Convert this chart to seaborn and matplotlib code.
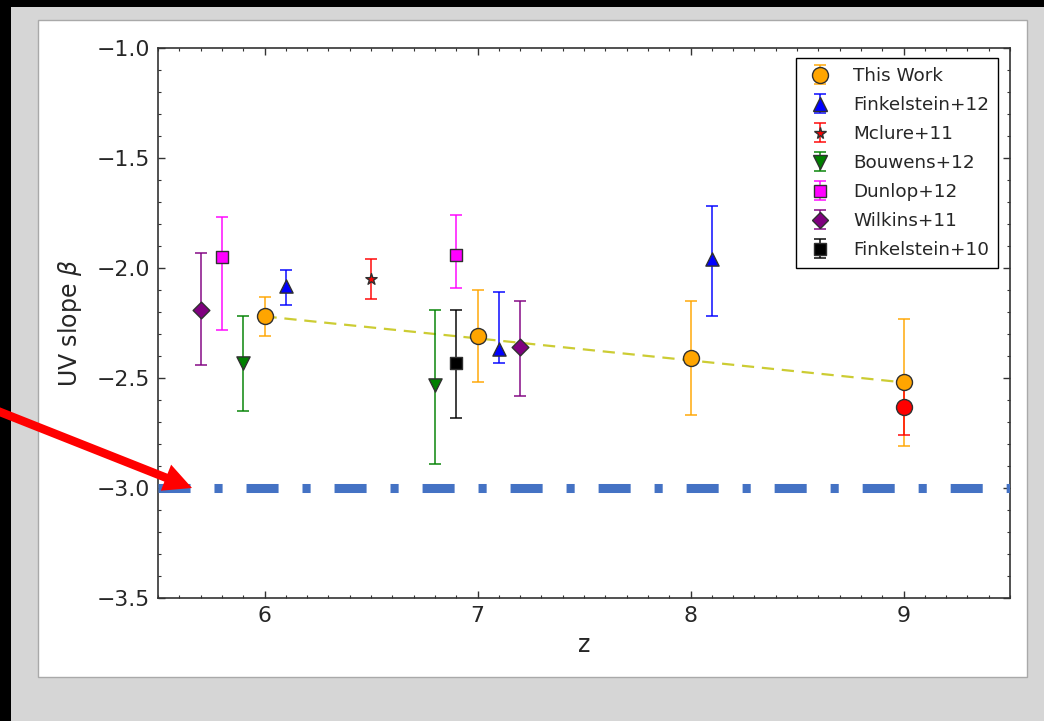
import numpy as np
import pandas as pd
import matplotlib
matplotlib.use("Agg")
import matplotlib.pyplot as plt
import seaborn as sns
from matplotlib.patches import Rectangle, FancyArrow
from matplotlib.lines import Line2D
from matplotlib.collections import LineCollection
from matplotlib.container import ErrorbarContainer
from matplotlib.ticker import MultipleLocator
from matplotlib.transforms import IdentityTransform

# ---------------- data ----------------
this_z = [6.0, 7.0, 8.0, 9.0]
this_beta = [-2.22, -2.31, -2.41, -2.52]
this_lo = [0.09, 0.21, 0.26, 0.29]
this_hi = [0.09, 0.21, 0.26, 0.29]

extra_z = [9.0]
extra_beta = [-2.63]
extra_lo = [0.13]
extra_hi = [0.13]

fit_z = [6.0, 9.0]
fit_beta = [-2.22, -2.52]

f12_z = [6.1, 7.1, 8.1]
f12_beta = [-2.08, -2.37, -1.96]
f12_lo = [0.09, 0.06, 0.26]
f12_hi = [0.07, 0.26, 0.24]

m11_z = [6.5]
m11_beta = [-2.05]
m11_lo = [0.09]
m11_hi = [0.09]

b12_z = [5.9, 6.8]
b12_beta = [-2.43, -2.53]
b12_lo = [0.22, 0.36]
b12_hi = [0.21, 0.34]

d12_z = [5.8, 6.9]
d12_beta = [-1.95, -1.94]
d12_lo = [0.33, 0.15]
d12_hi = [0.18, 0.18]

w11_z = [5.7, 7.2]
w11_beta = [-2.19, -2.36]
w11_lo = [0.25, 0.22]
w11_hi = [0.26, 0.21]

f10_z = [6.9]
f10_beta = [-2.43]
f10_lo = [0.25]
f10_hi = [0.24]

limit_beta = -3.0

labels = ["This Work", "Finkelstein+12", "Mclure+11", "Bouwens+12",
          "Dunlop+12", "Wilkins+11", "Finkelstein+10"]

# ---------------- style ----------------
sns.set_style("ticks")
plt.rcParams["font.family"] = ["DejaVu Sans"]
plt.rcParams["mathtext.fontset"] = "dejavusans"

W, H = 1044, 721
fig = plt.figure(figsize=(W / 100, H / 100), dpi=100)
fig.patch.set_facecolor("black")

def px_rect(x0, y0, x1, y1, **kw):
    # image pixel coords (origin top-left) -> figure fraction
    r = Rectangle((x0 / W, 1 - y1 / H), (x1 - x0) / W, (y1 - y0) / H,
                  transform=fig.transFigure, **kw)
    fig.add_artist(r)
    return r

px_rect(11, 7, W + 5, H + 5, facecolor="#d6d6d6", edgecolor="none", zorder=-10)
px_rect(38, 20, 1027, 677, facecolor="white", edgecolor="#a9a9a9", linewidth=1.0, zorder=-9)

ax = fig.add_axes([158 / W, 1 - 598 / H, (1010 - 158) / W, (598 - 48) / H])
ax.set_facecolor("white")

ERR_ALPHA = 0.75
ERR_LW = 1.4
CAP = 4
EDGE = "#303030"

series = [
    # z, beta, lo, hi, color, marker, size(pt), label
    (this_z, this_beta, this_lo, this_hi, "orange", "o", 11.5, labels[0]),
    (extra_z, extra_beta, extra_lo, extra_hi, "red", "o", 11.5, None),
    (f12_z, f12_beta, f12_lo, f12_hi, "blue", "^", 9.5, labels[1]),
    (m11_z, m11_beta, m11_lo, m11_hi, "red", "*", 8.5, labels[2]),
    (b12_z, b12_beta, b12_lo, b12_hi, "green", "v", 9.5, labels[3]),
    (d12_z, d12_beta, d12_lo, d12_hi, "magenta", "s", 9.0, labels[4]),
    (w11_z, w11_beta, w11_lo, w11_hi, "purple", "D", 8.5, labels[5]),
    (f10_z, f10_beta, f10_lo, f10_hi, "black", "s", 9.0, labels[6]),
]

# fit line
sns.lineplot(x=fit_z, y=fit_beta, ax=ax, color=(0.8, 0.8, 0.2), linewidth=1.6,
             linestyle=(0, (5.5, 3.5)), zorder=2, legend=False)

handles = []
for z, b, lo, hi, c, m, ms, lab in series:
    ax.errorbar(z, b, yerr=[lo, hi], fmt="none", ecolor=c, alpha=ERR_ALPHA,
                elinewidth=ERR_LW, capsize=CAP, capthick=ERR_LW, zorder=2.5)
for z, b, lo, hi, c, m, ms, lab in series:
    sns.scatterplot(x=z, y=b, ax=ax, marker=m, s=ms ** 2, color=c,
                    edgecolor=EDGE, linewidth=1.0, zorder=4, legend=False)
    if lab is not None:
        dl = Line2D([], [], marker=m, color=c, markeredgecolor=EDGE,
                    markeredgewidth=1.0, markersize=ms, linestyle="none")
        cl = Line2D([], [], marker="_", color=c, alpha=ERR_ALPHA,
                    markersize=2 * CAP, markeredgewidth=ERR_LW, linestyle="none")
        bl = LineCollection([], colors=[c], alpha=ERR_ALPHA, linewidths=ERR_LW)
        handles.append(ErrorbarContainer((dl, (cl, cl), [bl]), has_yerr=True, label=lab))

# horizontal limit line
ax.axhline(limit_beta, color="#4472C4", linewidth=6.5,
           linestyle=(0, (3.55, 2.65, 0.9, 2.65)), dash_capstyle="butt", zorder=3)

ax.set_xlim(5.5, 9.5)
ax.set_ylim(-3.5, -1.0)
ax.xaxis.set_major_locator(MultipleLocator(1))
ax.xaxis.set_minor_locator(MultipleLocator(0.1))
ax.yaxis.set_major_locator(MultipleLocator(0.5))
ax.yaxis.set_minor_locator(MultipleLocator(0.1))
ax.tick_params(which="both", direction="in", top=True, right=True, color="#333333")
ax.tick_params(which="major", length=5, width=1, labelsize=15.8, pad=6)
ax.tick_params(which="minor", length=2.5, width=0.8)
for sp in ax.spines.values():
    sp.set_color("#333333")
    sp.set_linewidth(1.2)
    sp.set_visible(True)

ax.set_xlabel("z", fontsize=17, labelpad=5)
ax.set_ylabel(r"UV slope $\beta$", fontsize=17, labelpad=9)

leg = ax.legend(handles=handles, loc="upper right", bbox_to_anchor=(0.986, 0.982),
                borderaxespad=0, fontsize=13.2, numpoints=1, frameon=True,
                fancybox=False, edgecolor="black", framealpha=1,
                labelspacing=0.6, handletextpad=1.0, borderpad=0.5, handlelength=1.6)
leg.get_frame().set_linewidth(1.0)

# red arrow overlay (image pixel coords)
x0, y0 = -10, 408
x1, y1 = 192, 488
arr = FancyArrow(x0, H - y0, x1 - x0, -(y1 - y0), width=8.5, head_width=28,
                 head_length=28, length_includes_head=True, color="red",
                 linewidth=0, transform=IdentityTransform(), zorder=20)
fig.add_artist(arr)

fig.savefig("out.png", dpi=100, facecolor=fig.get_facecolor())
